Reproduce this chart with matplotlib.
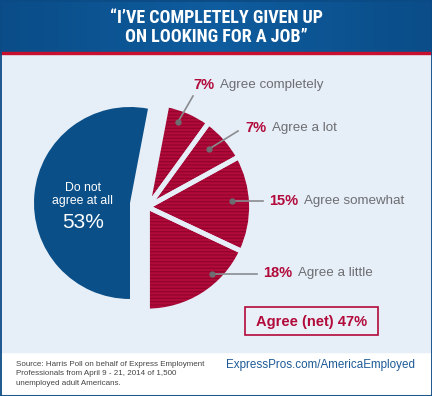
import numpy as np
import matplotlib.pyplot as plt
from matplotlib.patches import Wedge, Rectangle
from matplotlib.colors import LinearSegmentedColormap

# data
categories = ["Do not agree at all", "Agree a little", "Agree somewhat",
              "Agree a lot", "Agree completely"]
values = [53, 18, 15, 7, 7]
title_lines = ["\u201cI\u2019VE COMPLETELY GIVEN UP", "ON LOOKING FOR A JOB\u201d"]
source_lines = ["Source: Harris Poll on behalf of Express Employment",
                "Professionals from April 9 - 21, 2014 of 1,500",
                "unemployed adult Americans."]
url = "ExpressPros.com/AmericaEmployed"

W, H = 432, 396
BLUE = "#0a4f87"
RED = "#b20a3a"
STRIPE = "#8e052c"
BG = "#e6eef8"
GRAY = "#6d6e71"

plt.rcParams['font.family'] = ['Liberation Sans', 'DejaVu Sans']
plt.rcParams['hatch.linewidth'] = 0.8

fig = plt.figure(figsize=(W / 100, H / 100), dpi=100)
ax = fig.add_axes([0, 0, 1, 1])
ax.set_xlim(0, W)
ax.set_ylim(0, H)


def Y(y):
    # image pixel row -> axes y
    return H - y


# background pieces
ax.add_patch(Rectangle((0, 0), W, H, color="white", zorder=0))
ax.add_patch(Rectangle((0, Y(352)), W, 352 - 54, color=BG, zorder=0))
ax.add_patch(Rectangle((0, 0), W, 1.5, color="#d5dfeb", zorder=0))
grad = np.abs(np.linspace(-1, 1, 200))[None, :]
cmap = LinearSegmentedColormap.from_list("hdr", ["#0f5c9e", "#0a4d88"])
ax.imshow(grad, extent=[0, W, Y(52), H], cmap=cmap, aspect="auto", zorder=1)
ax.add_patch(Rectangle((0, Y(54.3)), W, 2.6, color="#c8102e", zorder=2))
ax.add_patch(Rectangle((0.5, 0.5), W - 1, H - 1, fill=False, ec="#0b4b85", lw=1.3, zorder=5))

tfam = ['Roboto Condensed', 'Liberation Sans Narrow', 'Liberation Sans', 'DejaVu Sans']
for ty, line, target in [(18, title_lines[0], 230), (37.5, title_lines[1], 196)]:
    t = ax.text(W / 2, Y(ty), line, ha="center", va="center", color="white",
                fontsize=13, fontweight="bold", family=tfam, zorder=3)
    fig.canvas.draw()
    wpx = t.get_window_extent().width
    t.set_fontsize(13 * target / wpx if wpx > target else 13)

# pie
start = 270 - values[0] / 100 * 360
wedges, _ = ax.pie(values, startangle=start, counterclock=True, radius=96,
                   center=(139, Y(205)), colors=[BLUE] + [RED] * 4,
                   wedgeprops=dict(linewidth=0))
wedges[0].set_center((130, Y(203)))
red_c = (147.5, Y(207))
for w in wedges[1:]:
    w.set_center(red_c)
    w.set_radius(104)
    w.set_hatch("-----")
    w.set_edgecolor(STRIPE)
    w.set_linewidth(0)
    w.set_zorder(3)
    ax.add_patch(Wedge(red_c, 104, w.theta1, w.theta2, fc="none", ec=BG, lw=3.5, zorder=4))

ax.text(83, Y(188), "Do not", color="white", fontsize=8.8, ha="center", va="center", zorder=6)
ax.text(83, Y(201), "agree at all", color="white", fontsize=8.8, ha="center", va="center", zorder=6)
ax.text(83, Y(222), f"{values[0]}%", color="white", fontsize=15, ha="center", va="center", zorder=6)

# callouts: dot, line end, text position
callouts = {
    "Agree completely": ((178, 122), (193, 96), (193, 85)),
    "Agree a lot": ((209, 149), (238, 131), (245, 128)),
    "Agree somewhat": ((232, 201), (263, 201), (269, 201)),
    "Agree a little": ((212, 274), (257, 274), (263, 273)),
}
for cat, v in zip(categories[1:], values[1:]):
    (dx, dy), (lx, ly), (tx, ty) = callouts[cat]
    ax.plot([dx, lx], [Y(dy), Y(ly)], color="#8a8c8f", lw=1.2, zorder=6)
    ax.plot(dx, Y(dy), "o", color="#6d6e71", ms=3.5, zorder=7)
    t = ax.text(tx, Y(ty), f"{v}%", color=RED, fontsize=10.5,
                fontweight="bold", ha="left", va="center", zorder=6)
    ax.annotate(cat, xy=(1, 0.5), xycoords=t, xytext=(6, 0), textcoords="offset pixels",
                color=GRAY, fontsize=9.6, ha="left", va="center", zorder=6)

net = sum(values[1:])
ax.add_patch(Rectangle((245, Y(335)), 133, 28, fc="#eaf0f8", ec=RED, lw=1.2, zorder=6))
ax.text(311.5, Y(322), f"Agree (net) {net}%", color=RED, fontsize=10.5, fontweight="bold",
        ha="center", va="center", zorder=7)

# footer
for i, line in enumerate(source_lines):
    ax.text(16, Y(364 + i * 9.7), line, color="#444444", fontsize=5.8, ha="left", va="center")
ax.text(415, Y(365), url, color="#1d5a96", fontsize=8.4, ha="right", va="center")

ax.set_xlim(0, W)
ax.set_ylim(0, H)
ax.set_aspect("auto")
ax.axis("off")
fig.savefig("out.png", dpi=100)
